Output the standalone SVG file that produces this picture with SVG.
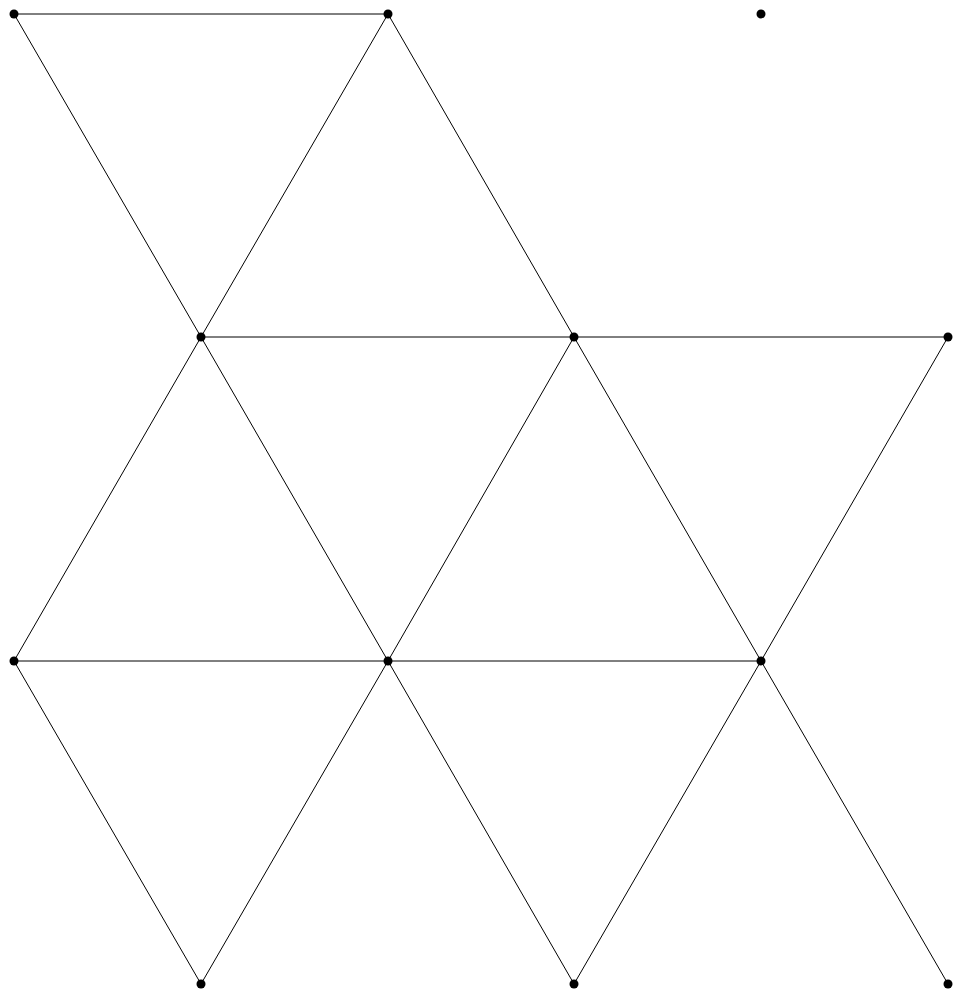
<svg xmlns="http://www.w3.org/2000/svg" width="962" height="999" viewBox="0 0 962 999">
<style>
.e{stroke:#000;stroke-width:1;fill:none}
.n{fill:#000}
</style>
<rect width="962" height="999" fill="#fff"/>
<g id="edges" class="e">
<line x1="14" y1="14" x2="388" y2="14"/>
<line x1="14" y1="14" x2="201" y2="337"/>
<line x1="388" y1="14" x2="201" y2="337"/>
<line x1="388" y1="14" x2="574" y2="337"/>
<line x1="201" y1="337" x2="574" y2="337"/>
<line x1="574" y1="337" x2="948" y2="337"/>
<line x1="201" y1="337" x2="14" y2="661"/>
<line x1="201" y1="337" x2="388" y2="661"/>
<line x1="574" y1="337" x2="388" y2="661"/>
<line x1="574" y1="337" x2="761" y2="661"/>
<line x1="948" y1="337" x2="761" y2="661"/>
<line x1="14" y1="661" x2="388" y2="661"/>
<line x1="388" y1="661" x2="761" y2="661"/>
<line x1="14" y1="661" x2="201" y2="984"/>
<line x1="388" y1="661" x2="201" y2="984"/>
<line x1="388" y1="661" x2="574" y2="984"/>
<line x1="761" y1="661" x2="574" y2="984"/>
<line x1="761" y1="661" x2="948" y2="984"/>
</g>
<g id="n1" class="n"><circle cx="14" cy="14" r="4.5"/></g>
<g id="n2" class="n"><circle cx="388" cy="14" r="4.5"/></g>
<g id="n3" class="n"><circle cx="761" cy="14" r="4.5"/></g>
<g id="n4" class="n"><circle cx="201" cy="337" r="4.5"/></g>
<g id="n5" class="n"><circle cx="574" cy="337" r="4.5"/></g>
<g id="n6" class="n"><circle cx="948" cy="337" r="4.5"/></g>
<g id="n7" class="n"><circle cx="14" cy="661" r="4.5"/></g>
<g id="n8" class="n"><circle cx="388" cy="661" r="4.5"/></g>
<g id="n9" class="n"><circle cx="761" cy="661" r="4.5"/></g>
<g id="n10" class="n"><circle cx="201" cy="984" r="4.5"/></g>
<g id="n11" class="n"><circle cx="574" cy="984" r="4.5"/></g>
<g id="n12" class="n"><circle cx="948" cy="984" r="4.5"/></g>
</svg>
